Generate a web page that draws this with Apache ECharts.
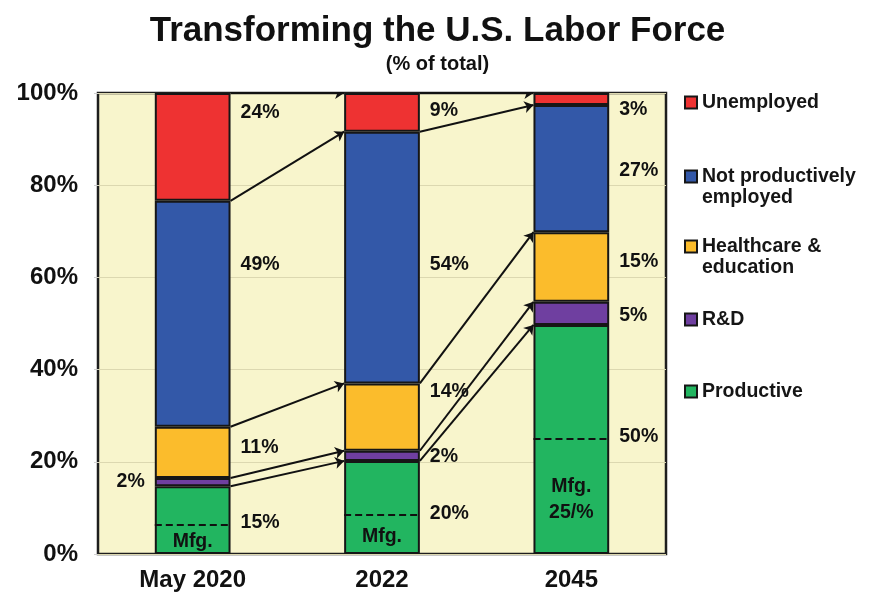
<!DOCTYPE html>
<html><head><meta charset="utf-8">
<script src="https://cdn.jsdelivr.net/npm/echarts@6/dist/echarts.min.js"></script>
<style>html,body{margin:0;padding:0;background:#fff}#c{width:875px;height:599px}</style>
</head><body><div id="c"></div>
<script>
const categories = ['May 2020', '2022', '2045'];
const productive    = [14.7, 20.2, 49.7];
const rnd           = [1.8, 2.2, 5.0];
const healthcare    = [11.1, 14.6, 15.1];
const notProductive = [49.0, 54.6, 27.6];
const unemployed    = [23.4, 8.4, 2.6];
const mfgLevel      = [6.3, 8.6, 25.1];
const yTicks = [0, 20, 40, 60, 80, 100];
const seriesNames = ['Productive', 'R&D', 'Healthcare & education', 'Not productively employed', 'Unemployed'];
const seriesColors = ['#22b560', '#6f3fa0', '#fbbc2c', '#3358a8', '#ee3232'];
// annotation labels: [category index, y value (%), text, side]
const annotations = [
  [0, 95.7, '24%', 'right'], [0, 62.7, '49%', 'right'], [0, 23.1, '11%', 'right'],
  [0, 15.8, '2%', 'left'], [0, 6.9, '15%', 'right'], [0, 2.7, 'Mfg.', 'inside'],
  [1, 96.1, '9%', 'right'], [1, 62.7, '54%', 'right'], [1, 35.2, '14%', 'right'],
  [1, 21.1, '2%', 'right'], [1, 8.7, '20%', 'right'], [1, 3.8, 'Mfg.', 'inside'],
  [2, 96.5, '3%', 'right'], [2, 83.1, '27%', 'right'], [2, 63.4, '15%', 'right'],
  [2, 51.8, '5%', 'right'], [2, 25.4, '50%', 'right'], [2, 11.7, 'Mfg.\n25/%', 'inside']
];

const FONT = '"Liberation Sans", Arial, sans-serif';
const segs = [productive, rnd, healthcare, notProductive, unemployed];
const HALF = 0.2; // half bar width in category units (barWidth 40%)

const tops = categories.map((c, i) => {
  let s = 0; return segs.map(a => (s += a[i]));
});
const arrowData = [];
for (let t = 0; t < categories.length - 1; t++) {
  for (let k = 0; k < segs.length; k++) {
    arrowData.push({ coords: [[t + 0.5 + HALF, tops[t][k]], [t + 1.5 - HALF, tops[t + 1][k]]] });
  }
}
const mfgData = mfgLevel.map((v, i) => ({ coords: [[i + 0.5 - HALF, v], [i + 0.5 + HALF, v]] }));
const annData = annotations.map(a => {
  const side = a[3];
  const x = side === 'right' ? a[0] + 0.5 + HALF : side === 'left' ? a[0] + 0.5 - HALF : a[0] + 0.5;
  return {
    value: [x, a[1]], name: a[2],
    label: { position: side, distance: side === 'inside' ? 0 : 10,
      align: side === 'right' ? 'left' : side === 'left' ? 'right' : 'center' }
  };
});

const barSeries = seriesNames.map((n, k) => ({
  name: n, type: 'bar', stack: 'total', barWidth: '40%',
  data: segs[k],
  itemStyle: { color: seriesColors[k], borderColor: '#161616', borderWidth: 2 }
}));

const legendTops = { 'Unemployed': 92, 'Not productively employed': 145, 'Healthcare & education': 215, 'R&D': 309, 'Productive': 381 };
const legendText = {
  'Unemployed': 'Unemployed',
  'Not productively employed': '\nNot productively\nemployed',
  'Healthcare & education': '\nHealthcare &\neducation',
  'R&D': 'R&D',
  'Productive': 'Productive'
};
const legends = Object.keys(legendTops).map(n => ({
  data: [n], left: 684, top: legendTops[n], orient: 'vertical', padding: 0,
  icon: 'rect', itemWidth: 12, itemHeight: 12, selectedMode: false,
  formatter: name => legendText[name],
  textStyle: { fontFamily: FONT, fontWeight: 'bold', fontSize: 19.5, lineHeight: 21, color: '#151515' }
}));

const chart = echarts.init(document.getElementById('c'), null, { renderer: 'canvas' });
chart.setOption({
  animation: false,
  backgroundColor: '#ffffff',
  title: [
    { text: 'Transforming the U.S. Labor Force', left: 'center', top: 9,
      textStyle: { fontFamily: FONT, fontWeight: 'bold', fontSize: 35, color: '#111' } },
    { text: '(% of total)', left: 'center', top: 49,
      textStyle: { fontFamily: FONT, fontWeight: 'bold', fontSize: 20, color: '#111' } }
  ],
  legend: legends,
  grid: { left: 98, right: 209, top: 93, bottom: 45, show: true,
    backgroundColor: '#f8f5cc', borderColor: '#1e1e1e', borderWidth: 2.5 },
  xAxis: [
    { type: 'category', data: categories,
      axisLine: { show: false }, axisTick: { show: false },
      axisLabel: { fontFamily: FONT, fontWeight: 'bold', fontSize: 24, color: '#111', margin: 14 } },
    { type: 'value', min: 0, max: categories.length, show: false }
  ],
  yAxis: {
    type: 'value', min: yTicks[0], max: yTicks[yTicks.length - 1], interval: yTicks[1] - yTicks[0],
    axisLine: { show: false },
    axisTick: { show: true, length: 4, lineStyle: { color: '#cfcfcf' } },
    splitLine: { lineStyle: { color: '#dcd8b0', width: 1 } },
    axisLabel: { formatter: v => v + '%', fontFamily: FONT, fontWeight: 'bold', fontSize: 24, color: '#111', margin: 20 }
  },
  series: barSeries.concat([
    { type: 'lines', coordinateSystem: 'cartesian2d', xAxisIndex: 1, yAxisIndex: 0, z: 5,
      symbol: ['none', 'arrow'], symbolSize: 9,
      lineStyle: { color: '#111', width: 2, opacity: 1, curveness: 0 },
      data: arrowData },
    { type: 'lines', coordinateSystem: 'cartesian2d', xAxisIndex: 1, yAxisIndex: 0, z: 5,
      symbol: ['none', 'none'],
      lineStyle: { color: '#111', width: 2, type: [7, 4], opacity: 1 },
      data: mfgData },
    { type: 'scatter', xAxisIndex: 1, yAxisIndex: 0, z: 6, symbolSize: 0.01,
      itemStyle: { color: '#000', opacity: 1 },
      label: { show: true, formatter: p => p.name, fontFamily: FONT, fontWeight: 'bold',
        fontSize: 19.5, lineHeight: 26, color: '#111', opacity: 1, textBorderWidth: 0 },
      emphasis: { disabled: true },
      data: annData,
      silent: true }
  ])
});
</script>
</body></html>
